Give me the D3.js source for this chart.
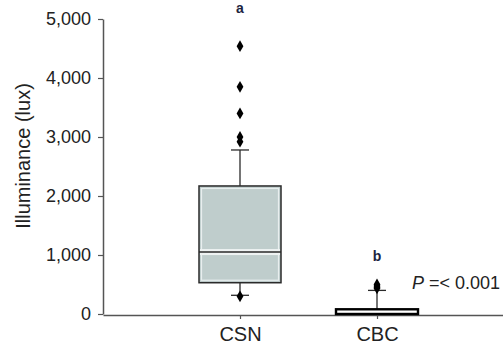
<!DOCTYPE html>
<html><head><meta charset="utf-8">
<script src="https://cdn.jsdelivr.net/npm/d3@7"></script>
<style>body{margin:0;background:#fff;}svg{display:block;font-family:"Liberation Sans",Arial,sans-serif;}</style>
</head><body>
<script>
const categories = ["CSN", "CBC"];
const whiskerLow = [317, 0];
const q1 = [530, 0];
const median = [1050, 25];
const q3 = [2170, 80];
const whiskerHigh = [2780, 400];
const outliers = [[4540, 3850, 3400, 3000, 2920, 300], [500, 475, 455, 435]];
const groupLetters = ["a", "b"];
const letterValues = [5110, 900];
const yTicks = [0, 1000, 2000, 3000, 4000, 5000];
const pLabel = "=< 0.001";

const W = 503, H = 351;
const svg = d3.select("body").append("svg").attr("width", W).attr("height", H);
const y = d3.scaleLinear().domain([0, 5000]).range([314, 19]);
const x = d3.scalePoint().domain(categories).range([103, 514]).padding(1);
const boxHalf = 41, capHalf = 9;
const axisColor = "#555";

// y axis
const yAxis = svg.append("g").attr("transform", "translate(103,0)")
  .call(d3.axisLeft(y).tickValues(yTicks).tickFormat(d3.format(",")).tickSize(5).tickSizeOuter(0));
yAxis.select(".domain").attr("stroke", axisColor).attr("stroke-width", 1.5);
yAxis.selectAll(".tick line").attr("stroke", axisColor).attr("stroke-width", 1.2);
yAxis.selectAll(".tick text").attr("font-size", 18).attr("fill", "#222").attr("x", -12)
  .attr("font-family", "Liberation Sans, Arial, sans-serif");

// x axis
const xAxis = svg.append("g").attr("transform", "translate(0,315)")
  .call(d3.axisBottom(x).tickSize(4).tickSizeOuter(0));
xAxis.select(".domain").attr("stroke", axisColor).attr("stroke-width", 1.5);
xAxis.selectAll(".tick line").attr("stroke", axisColor).attr("stroke-width", 1.2);
xAxis.selectAll(".tick text").attr("font-size", 20).attr("fill", "#222").attr("dy", "0.95em")
  .attr("font-family", "Liberation Sans, Arial, sans-serif");

// y title
svg.append("text").attr("transform", "translate(30,156) rotate(-90)")
  .attr("text-anchor", "middle").attr("font-size", 20).attr("fill", "#222")
  .text("Illuminance (lux)");

const g = svg.append("g");
categories.forEach((c, i) => {
  const cx = x(c);
  const stroke = "#2a2a2a";
  // whiskers
  g.append("line").attr("x1", cx).attr("x2", cx).attr("y1", y(whiskerHigh[i])).attr("y2", y(q3[i]))
    .attr("stroke", stroke).attr("stroke-width", 1.3);
  g.append("line").attr("x1", cx).attr("x2", cx).attr("y1", y(q1[i])).attr("y2", y(whiskerLow[i]))
    .attr("stroke", stroke).attr("stroke-width", 1.3);
  [whiskerHigh[i], whiskerLow[i]].forEach(v => {
    g.append("line").attr("x1", cx - capHalf).attr("x2", cx + capHalf).attr("y1", y(v)).attr("y2", y(v))
      .attr("stroke", stroke).attr("stroke-width", 1.3);
  });
  // box
  const top = y(q3[i]), bot = y(q1[i]);
  const h = bot - top;
  if (h > 10) {
    g.append("rect").attr("x", cx - boxHalf).attr("y", top).attr("width", boxHalf * 2).attr("height", h)
      .attr("fill", "#bfcdcc").attr("stroke", stroke).attr("stroke-width", 1.5);
    g.append("rect").attr("x", cx - boxHalf + 2.5).attr("y", top + 2.5).attr("width", boxHalf * 2 - 5).attr("height", h - 5)
      .attr("fill", "none").attr("stroke", "#e8eeee").attr("stroke-width", 1.2);
    const my = y(median[i]);
    g.append("rect").attr("x", cx - boxHalf + 1).attr("y", my - 3).attr("width", boxHalf * 2 - 2).attr("height", 6).attr("fill", "#eef2f2");
    g.append("line").attr("x1", cx - boxHalf).attr("x2", cx + boxHalf).attr("y1", my).attr("y2", my)
      .attr("stroke", stroke).attr("stroke-width", 1.5);
  } else {
    g.append("rect").attr("x", cx - boxHalf).attr("y", top).attr("width", boxHalf * 2).attr("height", h)
      .attr("fill", "#fff").attr("stroke", "#000").attr("stroke-width", 2.4);
  }
  // outliers
  outliers[i].forEach(v => {
    g.append("path").attr("d", d3.symbol(d3.symbolDiamond, 40)())
      .attr("transform", `translate(${cx},${y(v)})`).attr("fill", "#000");
  });
  // letters
  g.append("text").attr("x", cx).attr("y", y(letterValues[i])).attr("text-anchor", "middle")
    .attr("font-size", 14).attr("font-weight", "bold").attr("fill", "#1c2440").text(groupLetters[i]);
});

// P value
const pt = svg.append("text").attr("x", 412).attr("y", 289).attr("font-size", 18).attr("fill", "#222");
pt.append("tspan").attr("font-style", "italic").text("P");
pt.append("tspan").text(" " + pLabel);
</script>
</body></html>
